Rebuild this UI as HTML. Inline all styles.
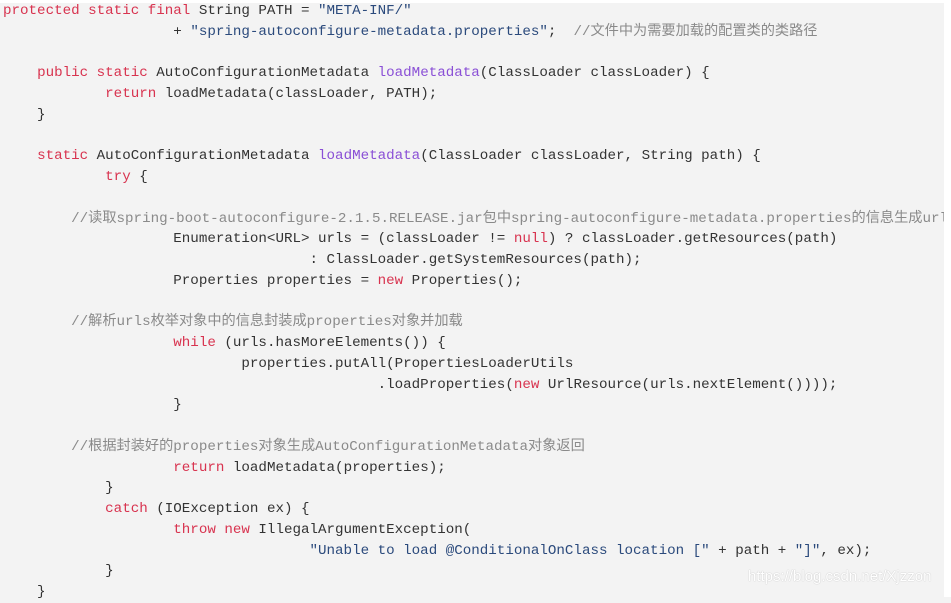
<!DOCTYPE html>
<html><head><meta charset="utf-8"><style>
html,body{margin:0;padding:0}
body{width:951px;height:597px;background:#f3f3f3;position:relative;overflow:hidden}
.top{position:absolute;left:0;top:0;width:951px;height:3px;background:#fff}
.right{position:absolute;left:944px;top:0;width:7px;height:597px;background:#fff;z-index:2}
pre{position:absolute;left:3px;top:1px;margin:0;font-family:"Liberation Mono","Noto Sans CJK SC",monospace;font-size:14.2px;line-height:20.75px;color:#333}
.k{color:#d8334f}.f{color:#8a4fd6}.s{color:#2b4a7c}.c{color:#8a8a8a}
.wm{position:absolute;left:748px;top:568px;font-family:"Liberation Sans",sans-serif;font-size:15px;color:#fff;text-shadow:0 0 1px #aaa}
</style></head><body><div class="top"></div><div class="right"></div>
<pre><span class="k">protected static final</span> String PATH = <span class="s">"META-INF/"</span>
                    + <span class="s">"spring-autoconfigure-metadata.properties"</span>;  <span class="c">//文件中为需要加载的配置类的类路径</span>

    <span class="k">public static</span> AutoConfigurationMetadata <span class="f">loadMetadata</span>(ClassLoader classLoader) {
            <span class="k">return</span> loadMetadata(classLoader, PATH);
    }

    <span class="k">static</span> AutoConfigurationMetadata <span class="f">loadMetadata</span>(ClassLoader classLoader, String path) {
            <span class="k">try</span> {

        <span class="c">//读取spring-boot-autoconfigure-2.1.5.RELEASE.jar包中spring-autoconfigure-metadata.properties的信息生成url</span>
                    Enumeration&lt;URL&gt; urls = (classLoader != <span class="k">null</span>) ? classLoader.getResources(path)
                                    : ClassLoader.getSystemResources(path);
                    Properties properties = <span class="k">new</span> Properties();

        <span class="c">//解析urls枚举对象中的信息封装成properties对象并加载</span>
                    <span class="k">while</span> (urls.hasMoreElements()) {
                            properties.putAll(PropertiesLoaderUtils
                                            .loadProperties(<span class="k">new</span> UrlResource(urls.nextElement())));
                    }

        <span class="c">//根据封装好的properties对象生成AutoConfigurationMetadata对象返回</span>
                    <span class="k">return</span> loadMetadata(properties);
            }
            <span class="k">catch</span> (IOException ex) {
                    <span class="k">throw new</span> IllegalArgumentException(
                                    <span class="s">"Unable to load @ConditionalOnClass location ["</span> + path + <span class="s">"]"</span>, ex);
            }
    }</pre>
<div class="wm">https://blog.csdn.net/Xjzzon</div>
</body></html>
